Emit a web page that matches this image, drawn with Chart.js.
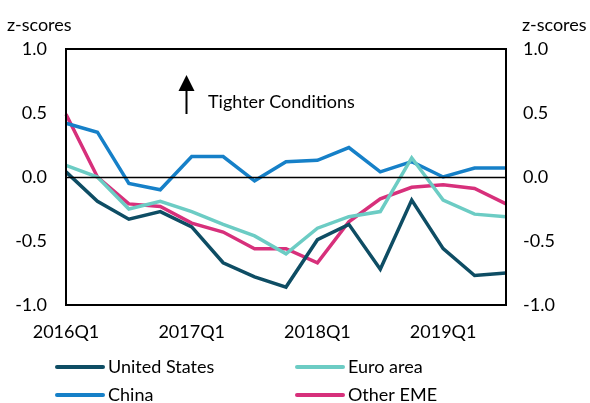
<!DOCTYPE html>
<html>
<head>
<meta charset="utf-8">
<script src="https://cdn.jsdelivr.net/npm/chart.js@4"></script>
<style>
html,body{margin:0;padding:0;background:#fff;}
#wrap{width:590px;height:403px;position:relative;}
</style>
</head>
<body>
<div id="wrap"><canvas id="c" width="590" height="403"></canvas></div>
<script>
const quarters = ["2016Q1","2016Q2","2016Q3","2016Q4","2017Q1","2017Q2","2017Q3","2017Q4","2018Q1","2018Q2","2018Q3","2018Q4","2019Q1","2019Q2","2019Q3"];
const unitedStates = [0.04,-0.19,-0.33,-0.27,-0.39,-0.67,-0.78,-0.86,-0.49,-0.37,-0.72,-0.18,-0.56,-0.77,-0.75];
const euroArea     = [0.09,0.00,-0.25,-0.19,-0.27,-0.37,-0.46,-0.60,-0.40,-0.31,-0.27,0.15,-0.18,-0.29,-0.31];
const china        = [0.42,0.35,-0.05,-0.10,0.16,0.16,-0.03,0.12,0.13,0.23,0.04,0.12,0.00,0.07,0.07];
const otherEME     = [0.49,0.00,-0.21,-0.23,-0.36,-0.43,-0.56,-0.56,-0.67,-0.35,-0.17,-0.08,-0.06,-0.09,-0.21];
const yTicks = [-1.0,-0.5,0.0,0.5,1.0];
const xTickLabels = ["2016Q1","2017Q1","2018Q1","2019Q1"];
const axisTitle = "z-scores";
const annotationText = "Tighter Conditions";

const FONT = "Lato, 'Liberation Sans', sans-serif";
const FS = 18;
const colors = {us:"#0E4D64", euro:"#6CCCC4", china:"#1680C8", eme:"#D7307B"};

const overlay = {
  id: "overlay",
  afterDraw(chart) {
    const ctx = chart.ctx;
    const a = chart.chartArea;
    const y = chart.scales.y;
    ctx.save();
    ctx.strokeStyle = "#000";
    ctx.lineWidth = 1.3;
    const y0 = Math.round(y.getPixelForValue(0)) + 0.5;
    ctx.beginPath(); ctx.moveTo(a.left, y0); ctx.lineTo(a.right, y0); ctx.stroke();
    ctx.lineWidth = 2;
    ctx.strokeRect(a.left, a.top, a.right - a.left, a.bottom - a.top);
    ctx.fillStyle = "#000";
    ctx.font = FS + "px " + FONT;
    ctx.textBaseline = "middle";
    ctx.textAlign = "left";
    ctx.fillText(axisTitle, 7, 25);
    ctx.fillText(axisTitle, 522, 25);
    const ax = 186.5;
    ctx.lineWidth = 2;
    ctx.beginPath(); ctx.moveTo(ax, 114); ctx.lineTo(ax, 88); ctx.stroke();
    ctx.beginPath(); ctx.moveTo(ax, 75); ctx.lineTo(ax - 8, 91); ctx.lineTo(ax + 8, 91); ctx.closePath(); ctx.fill();
    ctx.fillText(annotationText, 208, 102);
    const items = chart.data.datasets;
    const pos = [[57, 367], [297, 367], [57, 395], [297, 395]];
    items.forEach((ds, i) => {
      const [lx, ly] = pos[i];
      ctx.strokeStyle = ds.borderColor;
      ctx.lineWidth = 4;
      ctx.lineCap = "round";
      ctx.beginPath(); ctx.moveTo(lx, ly); ctx.lineTo(lx + 46, ly); ctx.stroke();
      ctx.fillStyle = "#000";
      ctx.fillText(ds.label, lx + 51, ly);
    });
    ctx.restore();
  }
};

function build() {
  new Chart(document.getElementById("c"), {
    type: "line",
    data: {
      labels: quarters,
      datasets: [
        {label:"United States", data:unitedStates, borderColor:colors.us},
        {label:"Euro area", data:euroArea, borderColor:colors.euro},
        {label:"China", data:china, borderColor:colors.china},
        {label:"Other EME", data:otherEME, borderColor:colors.eme}
      ].map(d => Object.assign(d, {borderWidth:3.5, pointRadius:0, tension:0, fill:false, borderJoinStyle:"miter"}))
    },
    options: {
      responsive: false,
      animation: false,
      devicePixelRatio: 1,
      layout: {padding: {top: 49, bottom: 58, left: 0, right: 0}},
      plugins: {legend: {display:false}, tooltip: {enabled:false}},
      scales: {
        x: {
          type: "category",
          offset: false,
          grid: {display:false, drawTicks:false},
          border: {display:false},
          afterFit(s) { s.height = 40; },
          ticks: {
            autoSkip:false, maxRotation:0, minRotation:0, padding:16,
            color:"#000", font:{family:FONT, size:FS},
            callback(v, i) { const l = quarters[i]; return xTickLabels.includes(l) ? l : ""; }
          }
        },
        y: {
          position:"left", min:-1, max:1,
          grid: {display:false, drawTicks:false},
          border: {display:false},
          afterFit(s) { s.width = 66; },
          afterBuildTicks(s) { s.ticks = yTicks.map(v => ({value:v})); },
          ticks: {padding:19, color:"#000", font:{family:FONT, size:FS}, callback:v => Number(v).toFixed(1)}
        },
        y2: {
          position:"right", min:-1, max:1,
          grid: {display:false, drawTicks:false},
          border: {display:false},
          afterFit(s) { s.width = 84; },
          afterBuildTicks(s) { s.ticks = yTicks.map(v => ({value:v})); },
          ticks: {padding:17, color:"#000", font:{family:FONT, size:FS}, callback:v => Number(v).toFixed(1)}
        }
      }
    },
    plugins: [overlay]
  });
}
(document.fonts && document.fonts.load ? document.fonts.load(FS + "px Lato").catch(()=>{}) : Promise.resolve()).then(build);
</script>
</body>
</html>
